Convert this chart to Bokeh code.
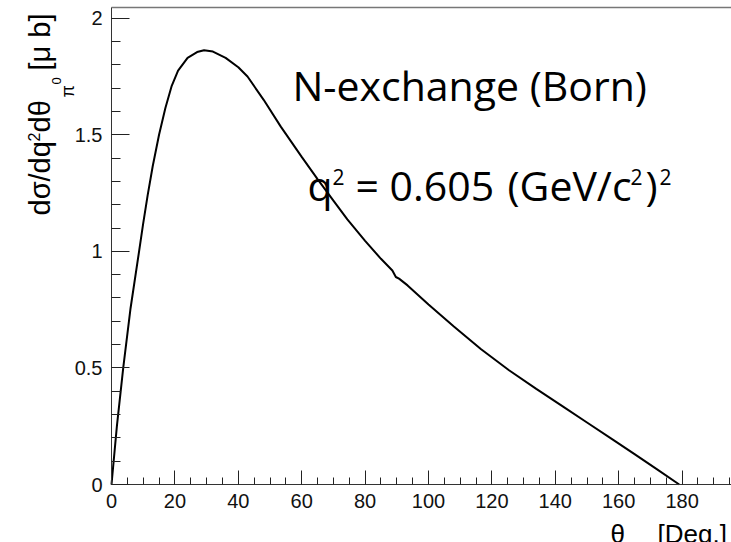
import math
from bokeh.plotting import figure
from bokeh.models import (Range1d, SingleIntervalTicker, NumeralTickFormatter, Label,
                          LinearAxis, FixedTicker)
from bokeh.embed import file_html
from bokeh.resources import INLINE

# ---- data ----
theta_deg = [0, 1.7, 3.7, 6, 8.7, 10, 11.4, 13, 15, 17, 19, 21, 24, 27, 29.2, 32, 36, 40,
             42.9, 48, 53.4, 60, 65, 70, 74.4, 80, 85, 88.6, 89.7, 90.7, 93.4, 100, 108,
             116.6, 125.4, 134, 142.7, 150, 158.5, 165, 172, 179.1]
dsigma = [0, 0.25, 0.5, 0.755, 1.0, 1.12, 1.24, 1.365, 1.5, 1.615, 1.71, 1.775, 1.83,
          1.855, 1.863, 1.857, 1.83, 1.79, 1.75, 1.65, 1.535, 1.405, 1.31, 1.218, 1.137,
          1.045, 0.968, 0.918, 0.890, 0.883, 0.854, 0.772, 0.678, 0.58, 0.49, 0.41,
          0.332, 0.266, 0.189, 0.13, 0.066, 0.0]
x_tick_step = 20
y_tick_step = 0.5
title1 = "N-exchange (Born)"
title2_parts = ["q", "2", "= 0.605", "(GeV/c", "2", ")", "2"]
y_title_parts = ["d\u03c3/dq", "2", "d\u03b8", "\u03c0", "0", "[\u03bc b]"]
x_title_parts = ["\u03b8", "[Deg.]"]

W, H = 731, 542
FL, FT, FB = 111, 7, 484          # axis pixel positions
PX_PER_DEG = 3.17
YMAX = 2.046                       # value at top frame line
BSHIFT = 0.3                       # baseline correction (em)


def px2x(px):
    return (px - FL) / PX_PER_DEG


def py2y(py):
    return (FB - py) / (FB - FT) * YMAX


p = figure(width=W, height=H, output_backend="svg", toolbar_location=None,
           x_range=Range1d(px2x(0), px2x(W)), y_range=Range1d(py2y(H), py2y(0)),
           x_axis_type=None, y_axis_type=None, min_border=0)
p.background_fill_color = "white"
p.border_fill_color = "white"
p.outline_line_color = None
p.grid.visible = False

p.line(theta_deg, dsigma, line_color="black", line_width=2)

XEND = px2x(W)
xaxis = LinearAxis(fixed_location=0, bounds=(0, XEND),
                   ticker=SingleIntervalTicker(interval=x_tick_step, num_minor_ticks=4))
yaxis = LinearAxis(fixed_location=0, bounds=(0, YMAX),
                   ticker=SingleIntervalTicker(interval=y_tick_step, num_minor_ticks=5),
                   formatter=NumeralTickFormatter(format="0.[0]"))
for ax in (xaxis, yaxis):
    ax.axis_line_color = "#333333"
    ax.major_tick_line_color = "#222222"
    ax.minor_tick_line_color = "#222222"
    ax.major_tick_out = 0
    ax.minor_tick_out = 0
    ax.major_label_text_font = "Liberation Sans"
    ax.major_label_text_font_size = "20px"
    ax.major_label_text_color = "#111111"
    ax.major_label_standoff = 9
xaxis.major_tick_in = 14
xaxis.minor_tick_in = 7
yaxis.major_tick_in = 18
yaxis.minor_tick_in = 9
p.add_layout(xaxis, "below")
p.add_layout(yaxis, "left")

topline = LinearAxis(fixed_location=YMAX, bounds=(0, XEND), ticker=FixedTicker(ticks=[]),
                     axis_line_color="#777777", axis_line_width=1.5)
p.add_layout(topline, "above")


def fsz(s):
    return float(s.replace("px", ""))


# titles inside plot: (left px, baseline px, size)
p.add_layout(Label(x=px2x(292), y=py2y(97 - BSHIFT * 41), text=title1, text_font="Open Sans",
                   text_font_size="41px", text_color="black", text_baseline="alphabetic"))
t2_pos = [(307, 197, "41px"), (332, 183, "21px"), (355, 197, "41px"), (507, 197, "41px"),
          (630, 183, "21px"), (645, 197, "41px"), (659, 183, "21px")]
for txt, (lx, by, fs) in zip(title2_parts, t2_pos):
    p.add_layout(Label(x=px2x(lx), y=py2y(by - BSHIFT * fsz(fs)), text=txt,
                       text_font="Open Sans", text_font_size=fs, text_color="black",
                       text_baseline="alphabetic"))

# y axis title pieces (rotated, reading upward): (baseline px, start px, size)
A = math.pi / 2
ylab_pos = [(48, 215, "29px"), (38, 141, "16px"), (48, 132, "29px"),
            (73, 97, "18px"), (60, 84, "13px"), (48, 70, "29px")]
for txt, (bx, sy, fs) in zip(y_title_parts, ylab_pos):
    p.add_layout(Label(x=px2x(bx - BSHIFT * fsz(fs)), y=py2y(sy), text=txt, angle=A,
                       text_font="Liberation Sans", text_font_size=fs, text_color="black",
                       text_baseline="alphabetic", text_align="left"))

# x axis title pieces
xlab_pos = [(610, "26px"), (657, "26px")]
for txt, (lx, fs) in zip(x_title_parts, xlab_pos):
    p.add_layout(Label(x=px2x(lx), y=py2y(541 - BSHIFT * fsz(fs)), text=txt,
                       text_font="Liberation Sans", text_font_size=fs, text_color="black",
                       text_baseline="alphabetic"))

open("out.html", "w").write(file_html(p, INLINE))
